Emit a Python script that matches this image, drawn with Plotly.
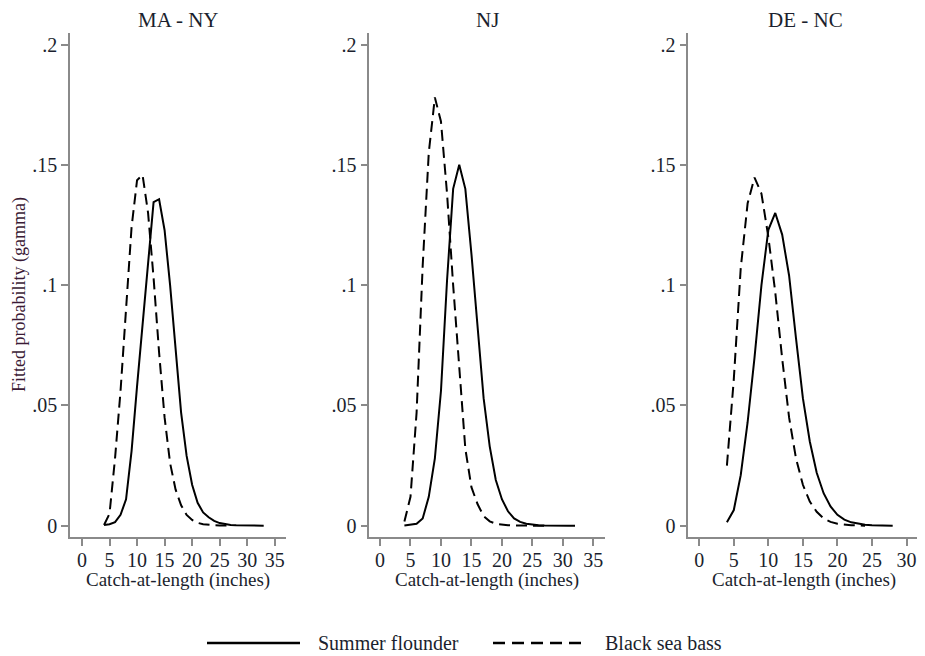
import plotly.graph_objects as go

# The page body has an 8px margin: the figure is drawn at (8, 8) in the window
# and the usable width is 925 - 16.
OFF = 8
W, H = 925 - 2 * OFF, 656 - OFF

panel_titles = ["MA - NY", "NJ", "DE - NC"]
series_names = ["Summer flounder", "Black sea bass"]

# MA - NY
ma_sf_x = list(range(4, 34))
ma_sf_y = [0.0003, 0.0006, 0.0015, 0.0045, 0.011, 0.031, 0.058, 0.084, 0.110, 0.1345,
           0.1357, 0.1228, 0.100, 0.073, 0.047, 0.029, 0.017, 0.0095, 0.0055, 0.0035,
           0.002, 0.0011, 0.0006, 0.0003, 0.0002, 0.0001, 0.0, 0.0, 0.0, 0.0]
ma_bsb_x = list(range(4, 28))
ma_bsb_y = [0.0003, 0.005, 0.028, 0.056, 0.090, 0.124, 0.1436, 0.1458, 0.130, 0.103,
            0.072, 0.045, 0.026, 0.015, 0.0085, 0.0045, 0.0024, 0.0012, 0.0006, 0.0003,
            0.0002, 0.0001, 0.0, 0.0]

# NJ
nj_sf_x = list(range(4, 33))
nj_sf_y = [0.0001, 0.0003, 0.0008, 0.003, 0.012, 0.028, 0.056, 0.102, 0.140, 0.150,
           0.140, 0.113, 0.083, 0.053, 0.033, 0.019, 0.011, 0.006, 0.003, 0.0016,
           0.0008, 0.0004, 0.0002, 0.0001, 0.0, 0.0, 0.0, 0.0, 0.0]
nj_bsb_x = list(range(4, 28))
nj_bsb_y = [0.0017, 0.012, 0.047, 0.108, 0.155, 0.178, 0.168, 0.138, 0.100, 0.064,
            0.032, 0.016, 0.009, 0.004, 0.0018, 0.0008, 0.0004, 0.0002, 0.0001, 0.0,
            0.0, 0.0, 0.0, 0.0]

# DE - NC
de_sf_x = list(range(4, 29))
de_sf_y = [0.0014, 0.0065, 0.021, 0.043, 0.070, 0.100, 0.123, 0.130, 0.121, 0.104,
           0.078, 0.053, 0.035, 0.022, 0.0135, 0.008, 0.0045, 0.0025, 0.0014, 0.0008,
           0.0004, 0.0002, 0.0001, 0.0, 0.0]
de_bsb_x = list(range(4, 25))
de_bsb_y = [0.025, 0.061, 0.107, 0.134, 0.1447, 0.138, 0.120, 0.097, 0.0695, 0.045,
            0.028, 0.017, 0.010, 0.0058, 0.003, 0.0016, 0.0008, 0.0004, 0.0002, 0.0001, 0.0]

y_tickvals = [0, 0.05, 0.1, 0.15, 0.2]
y_ticktext = ["0", ".05", ".1", ".15", ".2"]
x_tickvals_12 = [0, 5, 10, 15, 20, 25, 30, 35]
x_tickvals_3 = [0, 5, 10, 15, 20, 25, 30]

FONT = "Liberation Serif"
TXT = "#1b1f2e"
AX = "#8a8a8a"

def px_x(p):
    return (p - OFF) / W

def px_y(p):
    return 1 - (p - OFF) / H

# plot-area pixel boxes (window coords) and axis ranges
x_doms = [(70, 286), (369.3, 605), (688.3, 917)]
x_ranges = [(-2.18, 37.05), (-1.76, 36.92), (-1.59, 31.52)]
y_dom = (px_y(537.3), px_y(33.3))
y_range = (-0.00482, 0.20466)

data = [
    (ma_sf_x, ma_sf_y, ma_bsb_x, ma_bsb_y),
    (nj_sf_x, nj_sf_y, nj_bsb_x, nj_bsb_y),
    (de_sf_x, de_sf_y, de_bsb_x, de_bsb_y),
]

fig = go.Figure()
for i, (sx, sy, bx, by) in enumerate(data):
    xa = "x" if i == 0 else f"x{i+1}"
    ya = "y" if i == 0 else f"y{i+1}"
    fig.add_trace(go.Scatter(x=sx, y=sy, mode="lines", name=series_names[0],
                             line=dict(color="black", width=2), xaxis=xa, yaxis=ya,
                             showlegend=False))
    fig.add_trace(go.Scatter(x=bx, y=by, mode="lines", name=series_names[1],
                             line=dict(color="black", width=2, dash="11px,6px"),
                             xaxis=xa, yaxis=ya, showlegend=False))

layout = dict(
    width=W, height=H,
    margin=dict(l=0, r=0, t=0, b=0),
    paper_bgcolor="white", plot_bgcolor="white",
    font=dict(family=FONT, color=TXT, size=18),
    showlegend=False,
)

for i in range(3):
    sfx = "" if i == 0 else str(i + 1)
    layout["xaxis" + sfx] = dict(
        domain=[px_x(x_doms[i][0]), min(1.0, px_x(x_doms[i][1]))],
        range=list(x_ranges[i]),
        anchor="y" + sfx,
        tickmode="array",
        tickvals=x_tickvals_3 if i == 2 else x_tickvals_12,
        ticks="outside", ticklen=7, tickwidth=1.5, tickcolor=AX,
        showline=True, linecolor=AX, linewidth=1.5,
        showgrid=False, zeroline=False,
        ticklabelstandoff=-3,
        ticklabeloverflow="allow",
        tickfont=dict(family=FONT, size=20, color=TXT),
    )
    layout["yaxis" + sfx] = dict(
        domain=list(y_dom),
        range=list(y_range),
        anchor="x" + sfx,
        tickmode="array", tickvals=y_tickvals, ticktext=y_ticktext,
        ticks="outside", ticklen=7, tickwidth=1.5, tickcolor=AX,
        showline=True, linecolor=AX, linewidth=1.5,
        showgrid=False, zeroline=False,
        tickfont=dict(family=FONT, size=20, color=TXT),
    )

fig.update_layout(**layout)

annotations = []
title_cx = [178, 487, 805]
xtitle_cx = [177.5, 487, 804]
for i in range(3):
    annotations.append(dict(text=panel_titles[i], x=px_x(title_cx[i]), y=px_y(20),
                            xref="paper", yref="paper", showarrow=False,
                            xanchor="center", yanchor="middle",
                            font=dict(family=FONT, size=21, color=TXT)))
    annotations.append(dict(text="Catch-at-length (inches)", x=px_x(xtitle_cx[i]), y=px_y(580),
                            xref="paper", yref="paper", showarrow=False,
                            xanchor="center", yanchor="middle",
                            font=dict(family=FONT, size=19, color=TXT)))
annotations.append(dict(text="Fitted probability (gamma)", x=px_x(19), y=px_y(295),
                        xref="paper", yref="paper", showarrow=False, textangle=-90,
                        xanchor="center", yanchor="middle",
                        font=dict(family=FONT, size=18, color="#3a1a35")))
# legend
annotations.append(dict(text=series_names[0], x=px_x(316), y=px_y(643),
                        xref="paper", yref="paper", showarrow=False,
                        xanchor="left", yanchor="middle",
                        font=dict(family=FONT, size=20, color=TXT)))
annotations.append(dict(text=series_names[1], x=px_x(603), y=px_y(643),
                        xref="paper", yref="paper", showarrow=False,
                        xanchor="left", yanchor="middle",
                        font=dict(family=FONT, size=20, color=TXT)))

shapes = [
    dict(type="line", xref="paper", yref="paper", x0=px_x(207), x1=px_x(300),
         y0=px_y(643), y1=px_y(643), line=dict(color="black", width=2.5)),
    dict(type="line", xref="paper", yref="paper", x0=px_x(493), x1=px_x(587),
         y0=px_y(643), y1=px_y(643), line=dict(color="black", width=2.5, dash="12px,7px")),
]
fig.update_layout(annotations=annotations, shapes=shapes)

fig.write_html("out.html")
